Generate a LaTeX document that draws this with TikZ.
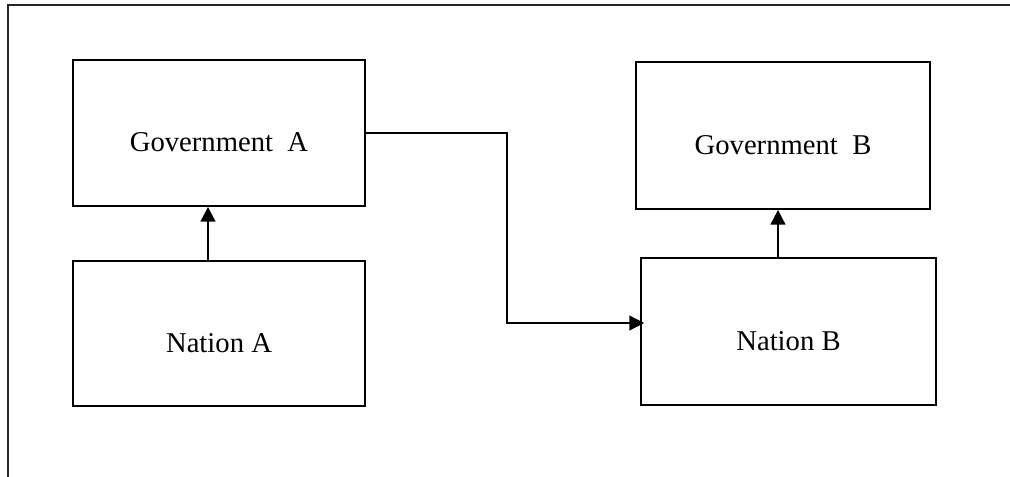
\documentclass[tikz,border=0pt]{standalone}
\usepackage{fontspec}
\setmainfont{Liberation Serif}
\usetikzlibrary{arrows.meta,calc}
\begin{document}
\begin{tikzpicture}[x=0.75pt,y=-0.75pt,
  box/.style={draw=black,line width=1.3pt,inner sep=0pt,font=\fontsize{21.5}{24}\selectfont,text height=28pt,text depth=0pt},
  arr/.style={line width=1.3pt,-{Triangle[length=11pt,width=11pt]}},
  frame/.style={draw=black!85,line width=0.9pt}]
\useasboundingbox (0,0) rectangle (1010,477);
\draw[frame] (8,477) -- (8,5) -- (1010,5);
\node[box,minimum width=292*0.75pt,minimum height=146*0.75pt] (GA) at (219,133) {Government\ \ A};
\node[box,minimum width=292*0.75pt,minimum height=145*0.75pt] (NA) at (219,333.5) {Nation A};
\node[box,minimum width=294*0.75pt,minimum height=147*0.75pt] (GB) at (783,135.5) {Government\ \ B};
\node[box,minimum width=295*0.75pt,minimum height=147*0.75pt] (NB) at (788.5,331.5) {Nation B};
\coordinate (ax) at (208,0);
\coordinate (bx) at (778,0);
\coordinate (m) at (507,323);
\draw[arr] (NA.north -| ax) -- (GA.south -| ax);
\draw[arr] (NB.north -| bx) -- (GB.south -| bx);
\draw[arr,shorten >=-3pt] (GA.east) -| (m) -- (NB.west |- m);
\end{tikzpicture}
\end{document}
